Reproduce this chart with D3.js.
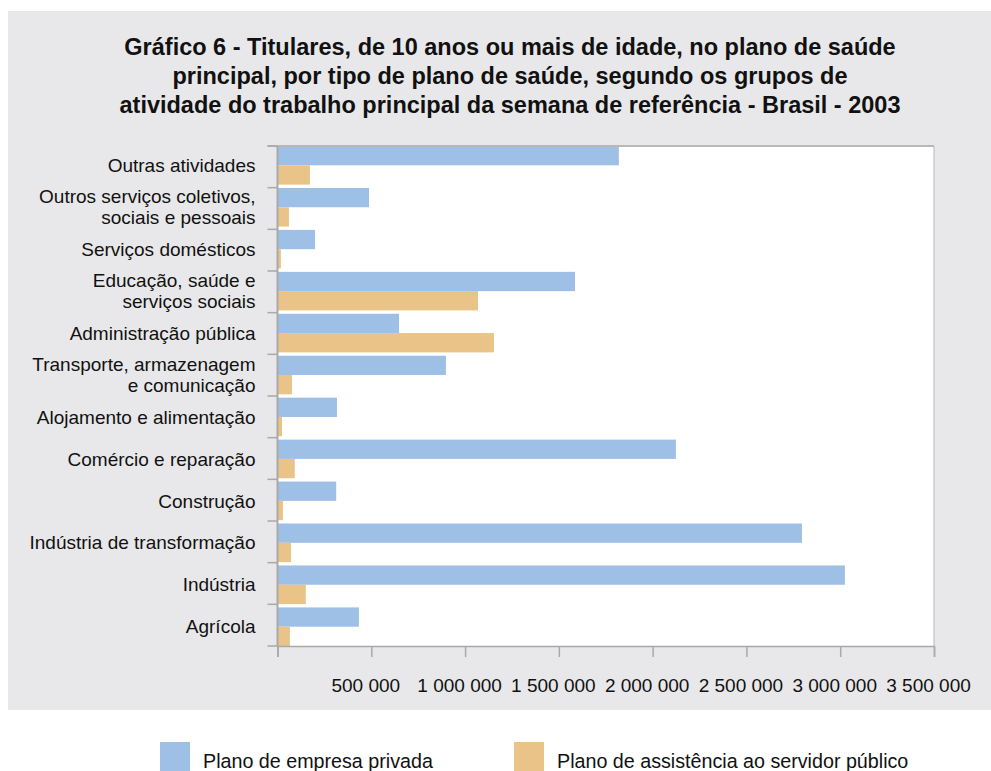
<!DOCTYPE html>
<html>
<head>
<meta charset="utf-8">
<script src="https://cdn.jsdelivr.net/npm/d3@7"></script>
<style>
  body { margin: 0; background: #ffffff; }
  svg { display: block; font-family: "Liberation Sans", Arial, sans-serif; }
</style>
</head>
<body>
<svg id="chart" width="991" height="771"></svg>
<script>
// Données du graphique
const categorias = [
    "Outras atividades",
    "Outros serviços coletivos,|sociais e pessoais",
    "Serviços domésticos",
    "Educação, saúde e|serviços sociais",
    "Administração pública",
    "Transporte, armazenagem|e comunicação ",
    "Alojamento e alimentação",
    "Comércio e reparação",
    "Construção",
    "Indústria de transformação",
    "Indústria",
    "Agrícola"
];
const empresaPrivada = [1820000, 488000, 200000, 1586000, 648000, 898000, 317000, 2124000, 313000, 2796000, 3025000, 434000];
const servidorPublico = [173000, 61000, 18000, 1069000, 1154000, 77000, 24000, 92000, 29000, 72000, 151000, 66000];
const series = ["Plano de empresa privada", "Plano de assistência ao servidor público"];
const ticksX = [0, 500000, 1000000, 1500000, 2000000, 2500000, 3000000, 3500000];
const titulo = [
    "Gráfico 6 - Titulares, de 10 anos ou mais de idade, no plano de saúde",
    "principal, por tipo de plano de saúde, segundo os grupos de",
    "atividade do trabalho principal da semana de referência - Brasil - 2003"
];

const cores = ["#9ebfe6", "#e9c388"];
const cinza = "#a9a9a9";

const svg = d3.select("#chart");

// Fond gris
svg.append("rect")
    .attr("x", 8).attr("y", 11)
    .attr("width", 983).attr("height", 699)
    .attr("fill", "#e8e8ea");

// Titre
svg.append("g").selectAll("text")
    .data(titulo)
    .enter().append("text")
    .attr("x", 510)
    .attr("y", (d, i) => 55 + i * 29)
    .attr("text-anchor", "middle")
    .style("font-size", "23.5px")
    .style("font-weight", "bold")
    .style("fill", "#111")
    .text(d => d);

// Zone du graphique
const margin = { left: 277.5, top: 146, right: 934, bottom: 646 };
const width = margin.right - margin.left;
const height = margin.bottom - margin.top;

const xScale = d3.scaleLinear().domain([0, 3500000]).range([0, width]);
const yScale = d3.scaleBand().domain(categorias).range([0, height]).paddingInner(0.08).paddingOuter(0);
const ySub = d3.scaleBand().domain([0, 1]).range([0, yScale.bandwidth()]);

const g = svg.append("g").attr("transform", `translate(${margin.left}, ${margin.top})`);

g.append("rect")
    .attr("width", width).attr("height", height)
    .attr("fill", "#ffffff");

// Barres
const dados = categorias.map((c, i) => ({ cat: c, vals: [empresaPrivada[i], servidorPublico[i]] }));
const grupos = g.selectAll(".grupo")
    .data(dados)
    .enter().append("g")
    .attr("transform", d => `translate(0, ${yScale(d.cat)})`);

grupos.selectAll("rect")
    .data(d => d.vals)
    .enter().append("rect")
    .attr("x", 0)
    .attr("y", (d, i) => ySub(i))
    .attr("width", d => xScale(d))
    .attr("height", ySub.bandwidth())
    .attr("fill", (d, i) => cores[i]);

// Bordure du graphique (haut et droite)
g.append("line")
    .attr("x1", -10).attr("x2", width).attr("y1", 0).attr("y2", 0)
    .attr("stroke", "#b8b8b8").attr("stroke-width", 2);
g.append("line")
    .attr("x1", width).attr("x2", width).attr("y1", 0).attr("y2", height)
    .attr("stroke", "#b8b8b8").attr("stroke-width", 1);

// Axe x
const xAxis = g.append("g")
    .attr("transform", `translate(0, ${height})`)
    .call(d3.axisBottom(xScale).tickValues(ticksX).tickSize(11).tickPadding(22)
        .tickFormat(d => d === 0 ? "" : d3.format(",")(d).replace(/,/g, " ")));
xAxis.select(".domain").attr("stroke", cinza).attr("stroke-width", 1.5);
xAxis.selectAll("line").attr("stroke", cinza).attr("stroke-width", 1.5);
xAxis.selectAll("text")
    .attr("dx", -6)
    .style("font-size", "19px")
    .style("font-family", "'Liberation Sans', Arial, sans-serif")
    .attr("fill", "#111");

// Axe y (traits entre les catégories)
const bornes = d3.range(categorias.length + 1).map(i => i * height / categorias.length);
g.append("g").selectAll("line")
    .data(bornes)
    .enter().append("line")
    .attr("x1", -10).attr("x2", 0)
    .attr("y1", d => d).attr("y2", d => d)
    .attr("stroke", cinza).attr("stroke-width", 1.5);
g.append("line")
    .attr("x1", 0).attr("x2", 0).attr("y1", 0).attr("y2", height)
    .attr("stroke", cinza).attr("stroke-width", 2);

// Libellés des catégories
const etiquetas = g.append("g").selectAll("text")
    .data(categorias)
    .enter().append("text")
    .attr("x", -22)
    .attr("y", d => yScale(d) + yScale.bandwidth() / 2)
    .attr("text-anchor", "end")
    .style("font-size", "19px")
    .style("fill", "#111");

etiquetas.each(function (d) {
    const linhas = d.split("|");
    const t = d3.select(this);
    linhas.forEach((l, i) => {
        t.append("tspan")
            .attr("x", -22)
            .attr("dy", i === 0 ? (linhas.length === 1 ? "0.35em" : "-0.2em") : "1.1em")
            .text(l);
    });
});

// Légende
const legenda = svg.append("g").selectAll("g")
    .data(series)
    .enter().append("g")
    .attr("transform", (d, i) => `translate(${i === 0 ? 160 : 514}, 742)`);
legenda.append("rect")
    .attr("width", 30).attr("height", 30)
    .attr("fill", (d, i) => cores[i]);
legenda.append("text")
    .attr("x", 43).attr("y", 26)
    .style("font-size", "19.7px")
    .style("fill", "#111")
    .text(d => d);
</script>
</body>
</html>
